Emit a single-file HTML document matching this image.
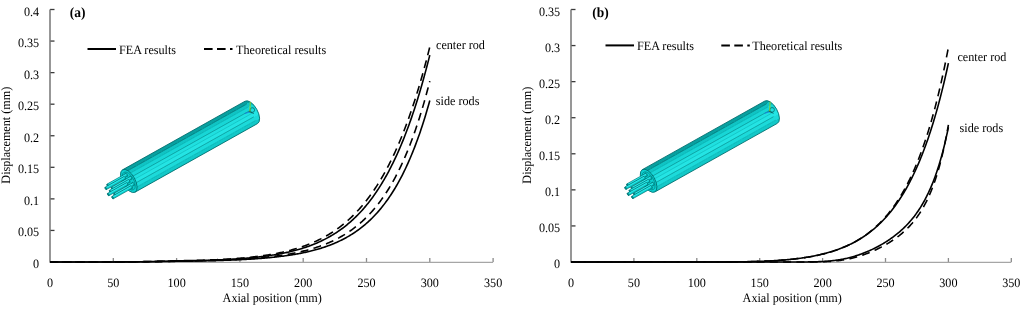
<!DOCTYPE html>
<html><head><meta charset="utf-8"><style>
html,body{margin:0;padding:0;background:#fff;width:1024px;height:309px;overflow:hidden;}
text{text-rendering:geometricPrecision;}
svg{display:block;will-change:transform;}
text{font-family:"Liberation Serif", serif;fill:#000;}
.yl{font-size:12.8px;text-anchor:end;}
.xl{font-size:12.8px;text-anchor:middle;}
.yt,.xt{font-size:12.8px;}
.yt{text-anchor:middle;}
.xt{text-anchor:start;}
.pl{font-size:14.2px;font-weight:bold;}
.lt{font-size:12.8px;}
.an{font-size:12.8px;}
.tk{stroke:#3a3a3a;stroke-width:1.3;}
.tx{stroke:#8a8a8a;stroke-width:1.3;}
.ya{stroke:#747474;stroke-width:1.5;}
.xa{stroke:#a6a6a6;stroke-width:1.3;}
.cs{fill:none;stroke:#000;stroke-width:1.6;stroke-linejoin:round;}
.cd{fill:none;stroke:#000;stroke-width:1.6;stroke-dasharray:8 5.3;}
.lg{stroke:#000;stroke-width:2;}
</style></head>
<body><svg width="1024" height="309" viewBox="0 0 1024 309">
<rect width="1024" height="309" fill="#fff"/>
<defs><linearGradient id="bga" x1="0" y1="-12.8" x2="0" y2="12.8" gradientUnits="userSpaceOnUse"><stop offset="0.0000" stop-color="#08a0a0"/><stop offset="0.1169" stop-color="#08a0a0"/><stop offset="0.1169" stop-color="#10c4c4"/><stop offset="0.2540" stop-color="#10c4c4"/><stop offset="0.2540" stop-color="#18d6d6"/><stop offset="0.4113" stop-color="#18d6d6"/><stop offset="0.4113" stop-color="#20e0e0"/><stop offset="0.5484" stop-color="#20e0e0"/><stop offset="0.5484" stop-color="#24e4e4"/><stop offset="0.7056" stop-color="#24e4e4"/><stop offset="0.7056" stop-color="#1cdada"/><stop offset="0.8669" stop-color="#1cdada"/><stop offset="0.8669" stop-color="#12c8c8"/><stop offset="1.0000" stop-color="#12c8c8"/></linearGradient></defs>
<g transform="translate(128.8,181.0) rotate(-29.25)">
<path d="M0,-12.8 L140.4,-12.8 A6.3,12.8 0 0 1 140.4,12.8 L0,12.8 Z" fill="url(#bga)" stroke="#006e6e" stroke-width="0.8"/>
<line x1="0" y1="-9.5" x2="140.4" y2="-9.5" stroke="#006c6c" stroke-width="0.6"/>
<line x1="0" y1="-6.1" x2="140.4" y2="-6.1" stroke="#049a9a" stroke-width="0.4"/>
<line x1="0" y1="-2.2" x2="140.4" y2="-2.2" stroke="#007878" stroke-width="0.5"/>
<line x1="0" y1="1.2" x2="140.4" y2="1.2" stroke="#06a8a8" stroke-width="0.4"/>
<line x1="0" y1="5.1" x2="140.4" y2="5.1" stroke="#007878" stroke-width="0.5"/>
<line x1="0" y1="9.1" x2="140.4" y2="9.1" stroke="#049c9c" stroke-width="0.4"/>
<ellipse cx="0" cy="0" rx="6.3" ry="12.8" fill="#0cd0d0" stroke="#006e6e" stroke-width="0.8"/>
<ellipse cx="0" cy="0" rx="4.91" ry="9.98" fill="none" stroke="#007a7a" stroke-width="0.6"/>
<ellipse cx="0.00" cy="0.00" rx="1.1" ry="2.2" fill="none" stroke="#007e7e" stroke-width="0.5"/>
<ellipse cx="-0.84" cy="6.57" rx="1.1" ry="2.2" fill="none" stroke="#007e7e" stroke-width="0.5"/>
<ellipse cx="2.31" cy="4.81" rx="1.1" ry="2.2" fill="none" stroke="#007e7e" stroke-width="0.5"/>
<ellipse cx="3.15" cy="-1.76" rx="1.1" ry="2.2" fill="none" stroke="#007e7e" stroke-width="0.5"/>
<ellipse cx="0.84" cy="-6.57" rx="1.1" ry="2.2" fill="none" stroke="#007e7e" stroke-width="0.5"/>
<ellipse cx="-2.31" cy="-4.81" rx="1.1" ry="2.2" fill="none" stroke="#007e7e" stroke-width="0.5"/>
<ellipse cx="-3.15" cy="1.76" rx="1.1" ry="2.2" fill="none" stroke="#007e7e" stroke-width="0.5"/>
<path d="M3.65,-3.11 L-18.15,-3.11 A0.68,1.35 0 0 0 -18.15,-0.41 L3.65,-0.41 Z" fill="#08d2d2" stroke="#006e6e" stroke-width="0.6"/>
<line x1="3.65" y1="-2.21" x2="-18.15" y2="-2.21" stroke="#40ecec" stroke-width="0.7"/>
<ellipse cx="-18.15" cy="-1.76" rx="0.68" ry="1.35" fill="#009494" stroke="#006868" stroke-width="0.5"/>
<path d="M2.81,3.46 L-18.99,3.46 A0.68,1.35 0 0 0 -18.99,6.16 L2.81,6.16 Z" fill="#08d2d2" stroke="#006e6e" stroke-width="0.6"/>
<line x1="2.81" y1="4.36" x2="-18.99" y2="4.36" stroke="#40ecec" stroke-width="0.7"/>
<ellipse cx="-18.99" cy="4.81" rx="0.68" ry="1.35" fill="#009494" stroke="#006868" stroke-width="0.5"/>
<path d="M1.34,-7.92 L-20.46,-7.92 A0.68,1.35 0 0 0 -20.46,-5.22 L1.34,-5.22 Z" fill="#08d2d2" stroke="#006e6e" stroke-width="0.6"/>
<line x1="1.34" y1="-7.02" x2="-20.46" y2="-7.02" stroke="#40ecec" stroke-width="0.7"/>
<ellipse cx="-20.46" cy="-6.57" rx="0.68" ry="1.35" fill="#009494" stroke="#006868" stroke-width="0.5"/>
<path d="M0.50,-1.35 L-21.30,-1.35 A0.68,1.35 0 0 0 -21.30,1.35 L0.50,1.35 Z" fill="#08d2d2" stroke="#006e6e" stroke-width="0.6"/>
<line x1="0.50" y1="-0.45" x2="-21.30" y2="-0.45" stroke="#40ecec" stroke-width="0.7"/>
<ellipse cx="-21.30" cy="0.00" rx="0.68" ry="1.35" fill="#009494" stroke="#006868" stroke-width="0.5"/>
<path d="M-0.34,5.22 L-22.14,5.22 A0.68,1.35 0 0 0 -22.14,7.92 L-0.34,7.92 Z" fill="#08d2d2" stroke="#006e6e" stroke-width="0.6"/>
<line x1="-0.34" y1="6.12" x2="-22.14" y2="6.12" stroke="#40ecec" stroke-width="0.7"/>
<ellipse cx="-22.14" cy="6.57" rx="0.68" ry="1.35" fill="#009494" stroke="#006868" stroke-width="0.5"/>
<path d="M-1.81,-6.16 L-23.61,-6.16 A0.68,1.35 0 0 0 -23.61,-3.46 L-1.81,-3.46 Z" fill="#08d2d2" stroke="#006e6e" stroke-width="0.6"/>
<line x1="-1.81" y1="-5.26" x2="-23.61" y2="-5.26" stroke="#40ecec" stroke-width="0.7"/>
<ellipse cx="-23.61" cy="-4.81" rx="0.68" ry="1.35" fill="#009494" stroke="#006868" stroke-width="0.5"/>
<path d="M-2.65,0.41 L-24.45,0.41 A0.68,1.35 0 0 0 -24.45,3.11 L-2.65,3.11 Z" fill="#08d2d2" stroke="#006e6e" stroke-width="0.6"/>
<line x1="-2.65" y1="1.31" x2="-24.45" y2="1.31" stroke="#40ecec" stroke-width="0.7"/>
<ellipse cx="-24.45" cy="1.76" rx="0.68" ry="1.35" fill="#009494" stroke="#006868" stroke-width="0.5"/>
</g>
<circle cx="252.30" cy="110.00" r="2.3" fill="none" stroke="#045f5f" stroke-width="0.7"/>
<line x1="249.80" y1="112.00" x2="250.30" y2="102.00" stroke="#a8d000" stroke-width="0.8"/>
<line x1="249.80" y1="112.00" x2="244.80" y2="113.50" stroke="#1a6fe0" stroke-width="0.8"/>
<line x1="248.80" y1="111.50" x2="253.80" y2="113.50" stroke="#034040" stroke-width="0.7"/>
<defs><linearGradient id="bgb" x1="0" y1="-12.8" x2="0" y2="12.8" gradientUnits="userSpaceOnUse"><stop offset="0.0000" stop-color="#08a0a0"/><stop offset="0.1169" stop-color="#08a0a0"/><stop offset="0.1169" stop-color="#10c4c4"/><stop offset="0.2540" stop-color="#10c4c4"/><stop offset="0.2540" stop-color="#18d6d6"/><stop offset="0.4113" stop-color="#18d6d6"/><stop offset="0.4113" stop-color="#20e0e0"/><stop offset="0.5484" stop-color="#20e0e0"/><stop offset="0.5484" stop-color="#24e4e4"/><stop offset="0.7056" stop-color="#24e4e4"/><stop offset="0.7056" stop-color="#1cdada"/><stop offset="0.8669" stop-color="#1cdada"/><stop offset="0.8669" stop-color="#12c8c8"/><stop offset="1.0000" stop-color="#12c8c8"/></linearGradient></defs>
<g transform="translate(648.6,180.8) rotate(-29.25)">
<path d="M0,-12.8 L140.4,-12.8 A6.3,12.8 0 0 1 140.4,12.8 L0,12.8 Z" fill="url(#bgb)" stroke="#006e6e" stroke-width="0.8"/>
<line x1="0" y1="-9.5" x2="140.4" y2="-9.5" stroke="#006c6c" stroke-width="0.6"/>
<line x1="0" y1="-6.1" x2="140.4" y2="-6.1" stroke="#049a9a" stroke-width="0.4"/>
<line x1="0" y1="-2.2" x2="140.4" y2="-2.2" stroke="#007878" stroke-width="0.5"/>
<line x1="0" y1="1.2" x2="140.4" y2="1.2" stroke="#06a8a8" stroke-width="0.4"/>
<line x1="0" y1="5.1" x2="140.4" y2="5.1" stroke="#007878" stroke-width="0.5"/>
<line x1="0" y1="9.1" x2="140.4" y2="9.1" stroke="#049c9c" stroke-width="0.4"/>
<ellipse cx="0" cy="0" rx="6.3" ry="12.8" fill="#0cd0d0" stroke="#006e6e" stroke-width="0.8"/>
<ellipse cx="0" cy="0" rx="4.91" ry="9.98" fill="none" stroke="#007a7a" stroke-width="0.6"/>
<ellipse cx="0.00" cy="0.00" rx="1.1" ry="2.2" fill="none" stroke="#007e7e" stroke-width="0.5"/>
<ellipse cx="-0.84" cy="6.57" rx="1.1" ry="2.2" fill="none" stroke="#007e7e" stroke-width="0.5"/>
<ellipse cx="2.31" cy="4.81" rx="1.1" ry="2.2" fill="none" stroke="#007e7e" stroke-width="0.5"/>
<ellipse cx="3.15" cy="-1.76" rx="1.1" ry="2.2" fill="none" stroke="#007e7e" stroke-width="0.5"/>
<ellipse cx="0.84" cy="-6.57" rx="1.1" ry="2.2" fill="none" stroke="#007e7e" stroke-width="0.5"/>
<ellipse cx="-2.31" cy="-4.81" rx="1.1" ry="2.2" fill="none" stroke="#007e7e" stroke-width="0.5"/>
<ellipse cx="-3.15" cy="1.76" rx="1.1" ry="2.2" fill="none" stroke="#007e7e" stroke-width="0.5"/>
<path d="M3.65,-3.11 L-18.15,-3.11 A0.68,1.35 0 0 0 -18.15,-0.41 L3.65,-0.41 Z" fill="#08d2d2" stroke="#006e6e" stroke-width="0.6"/>
<line x1="3.65" y1="-2.21" x2="-18.15" y2="-2.21" stroke="#40ecec" stroke-width="0.7"/>
<ellipse cx="-18.15" cy="-1.76" rx="0.68" ry="1.35" fill="#009494" stroke="#006868" stroke-width="0.5"/>
<path d="M2.81,3.46 L-18.99,3.46 A0.68,1.35 0 0 0 -18.99,6.16 L2.81,6.16 Z" fill="#08d2d2" stroke="#006e6e" stroke-width="0.6"/>
<line x1="2.81" y1="4.36" x2="-18.99" y2="4.36" stroke="#40ecec" stroke-width="0.7"/>
<ellipse cx="-18.99" cy="4.81" rx="0.68" ry="1.35" fill="#009494" stroke="#006868" stroke-width="0.5"/>
<path d="M1.34,-7.92 L-20.46,-7.92 A0.68,1.35 0 0 0 -20.46,-5.22 L1.34,-5.22 Z" fill="#08d2d2" stroke="#006e6e" stroke-width="0.6"/>
<line x1="1.34" y1="-7.02" x2="-20.46" y2="-7.02" stroke="#40ecec" stroke-width="0.7"/>
<ellipse cx="-20.46" cy="-6.57" rx="0.68" ry="1.35" fill="#009494" stroke="#006868" stroke-width="0.5"/>
<path d="M0.50,-1.35 L-21.30,-1.35 A0.68,1.35 0 0 0 -21.30,1.35 L0.50,1.35 Z" fill="#08d2d2" stroke="#006e6e" stroke-width="0.6"/>
<line x1="0.50" y1="-0.45" x2="-21.30" y2="-0.45" stroke="#40ecec" stroke-width="0.7"/>
<ellipse cx="-21.30" cy="0.00" rx="0.68" ry="1.35" fill="#009494" stroke="#006868" stroke-width="0.5"/>
<path d="M-0.34,5.22 L-22.14,5.22 A0.68,1.35 0 0 0 -22.14,7.92 L-0.34,7.92 Z" fill="#08d2d2" stroke="#006e6e" stroke-width="0.6"/>
<line x1="-0.34" y1="6.12" x2="-22.14" y2="6.12" stroke="#40ecec" stroke-width="0.7"/>
<ellipse cx="-22.14" cy="6.57" rx="0.68" ry="1.35" fill="#009494" stroke="#006868" stroke-width="0.5"/>
<path d="M-1.81,-6.16 L-23.61,-6.16 A0.68,1.35 0 0 0 -23.61,-3.46 L-1.81,-3.46 Z" fill="#08d2d2" stroke="#006e6e" stroke-width="0.6"/>
<line x1="-1.81" y1="-5.26" x2="-23.61" y2="-5.26" stroke="#40ecec" stroke-width="0.7"/>
<ellipse cx="-23.61" cy="-4.81" rx="0.68" ry="1.35" fill="#009494" stroke="#006868" stroke-width="0.5"/>
<path d="M-2.65,0.41 L-24.45,0.41 A0.68,1.35 0 0 0 -24.45,3.11 L-2.65,3.11 Z" fill="#08d2d2" stroke="#006e6e" stroke-width="0.6"/>
<line x1="-2.65" y1="1.31" x2="-24.45" y2="1.31" stroke="#40ecec" stroke-width="0.7"/>
<ellipse cx="-24.45" cy="1.76" rx="0.68" ry="1.35" fill="#009494" stroke="#006868" stroke-width="0.5"/>
</g>
<circle cx="772.10" cy="109.80" r="2.3" fill="none" stroke="#045f5f" stroke-width="0.7"/>
<line x1="769.60" y1="111.80" x2="770.10" y2="101.80" stroke="#a8d000" stroke-width="0.8"/>
<line x1="769.60" y1="111.80" x2="764.60" y2="113.30" stroke="#1a6fe0" stroke-width="0.8"/>
<line x1="768.60" y1="111.30" x2="773.60" y2="113.30" stroke="#034040" stroke-width="0.7"/>
<line x1="50.0" y1="262.00" x2="54.5" y2="262.00" class="tk"/>
<text transform="translate(39.20,268.00) scale(0.95,1)" class="yl">0</text>
<line x1="50.0" y1="230.44" x2="54.5" y2="230.44" class="tk"/>
<text transform="translate(39.20,236.44) scale(0.95,1)" class="yl">0.05</text>
<line x1="50.0" y1="198.88" x2="54.5" y2="198.88" class="tk"/>
<text transform="translate(39.20,204.88) scale(0.95,1)" class="yl">0.1</text>
<line x1="50.0" y1="167.31" x2="54.5" y2="167.31" class="tk"/>
<text transform="translate(39.20,173.31) scale(0.95,1)" class="yl">0.15</text>
<line x1="50.0" y1="135.75" x2="54.5" y2="135.75" class="tk"/>
<text transform="translate(39.20,141.75) scale(0.95,1)" class="yl">0.2</text>
<line x1="50.0" y1="104.19" x2="54.5" y2="104.19" class="tk"/>
<text transform="translate(39.20,110.19) scale(0.95,1)" class="yl">0.25</text>
<line x1="50.0" y1="72.62" x2="54.5" y2="72.62" class="tk"/>
<text transform="translate(39.20,78.62) scale(0.95,1)" class="yl">0.3</text>
<line x1="50.0" y1="41.06" x2="54.5" y2="41.06" class="tk"/>
<text transform="translate(39.20,47.06) scale(0.95,1)" class="yl">0.35</text>
<line x1="50.0" y1="9.50" x2="54.5" y2="9.50" class="tk"/>
<text transform="translate(39.20,15.50) scale(0.95,1)" class="yl">0.4</text>
<text transform="translate(50.00,286.60) scale(0.95,1)" class="xl">0</text>
<line x1="113.30" y1="262.0" x2="113.30" y2="258.0" class="tx"/>
<text transform="translate(113.30,286.60) scale(0.95,1)" class="xl">50</text>
<line x1="176.60" y1="262.0" x2="176.60" y2="258.0" class="tx"/>
<text transform="translate(176.60,286.60) scale(0.95,1)" class="xl">100</text>
<line x1="239.90" y1="262.0" x2="239.90" y2="258.0" class="tx"/>
<text transform="translate(239.90,286.60) scale(0.95,1)" class="xl">150</text>
<line x1="303.20" y1="262.0" x2="303.20" y2="258.0" class="tx"/>
<text transform="translate(303.20,286.60) scale(0.95,1)" class="xl">200</text>
<line x1="366.50" y1="262.0" x2="366.50" y2="258.0" class="tx"/>
<text transform="translate(366.50,286.60) scale(0.95,1)" class="xl">250</text>
<line x1="429.80" y1="262.0" x2="429.80" y2="258.0" class="tx"/>
<text transform="translate(429.80,286.60) scale(0.95,1)" class="xl">300</text>
<line x1="493.10" y1="262.0" x2="493.10" y2="258.0" class="tx"/>
<text transform="translate(493.10,286.60) scale(0.95,1)" class="xl">350</text>
<line x1="50.0" y1="9.5" x2="50.0" y2="262.5" class="ya"/>
<line x1="49.5" y1="262.3" x2="493.10" y2="262.3" class="xa"/>
<path d="M50.00,262.00 L50.95,262.00 L51.90,262.00 L52.86,262.00 L53.81,262.00 L54.76,262.00 L55.71,262.00 L56.66,262.00 L57.62,262.00 L58.57,262.00 L59.52,262.00 L60.47,262.00 L61.42,262.00 L62.37,262.00 L63.33,262.00 L64.28,262.00 L65.23,262.00 L66.18,262.00 L67.13,262.00 L68.09,262.00 L69.04,262.00 L69.99,262.00 L70.94,262.00 L71.89,262.00 L72.85,262.00 L73.80,262.00 L74.75,262.00 L75.70,262.00 L76.65,262.00 L77.60,262.00 L78.56,262.00 L79.51,262.00 L80.46,262.00 L81.41,262.00 L82.36,262.00 L83.32,261.99 L84.27,261.99 L85.22,261.99 L86.17,261.99 L87.12,261.99 L88.08,261.99 L89.03,261.99 L89.98,261.99 L90.93,261.99 L91.88,261.99 L92.83,261.99 L93.79,261.98 L94.74,261.98 L95.69,261.98 L96.64,261.98 L97.59,261.98 L98.55,261.98 L99.50,261.97 L100.45,261.97 L101.40,261.97 L102.35,261.97 L103.31,261.96 L104.26,261.96 L105.21,261.96 L106.16,261.96 L107.11,261.95 L108.06,261.95 L109.02,261.95 L109.97,261.94 L110.92,261.94 L111.87,261.94 L112.82,261.93 L113.78,261.93 L114.73,261.92 L115.68,261.92 L116.63,261.91 L117.58,261.91 L118.54,261.90 L119.49,261.90 L120.44,261.89 L121.39,261.89 L122.34,261.88 L123.29,261.87 L124.25,261.87 L125.20,261.86 L126.15,261.85 L127.10,261.85 L128.05,261.84 L129.01,261.83 L129.96,261.82 L130.91,261.81 L131.86,261.80 L132.81,261.79 L133.77,261.79 L134.72,261.78 L135.67,261.77 L136.62,261.75 L137.57,261.74 L138.52,261.73 L139.48,261.72 L140.43,261.71 L141.38,261.70 L142.33,261.68 L143.28,261.67 L144.24,261.66 L145.19,261.64 L146.14,261.63 L147.09,261.61 L148.04,261.60 L149.00,261.58 L149.95,261.57 L150.90,261.55 L151.85,261.53 L152.80,261.51 L153.75,261.49 L154.71,261.48 L155.66,261.46 L156.61,261.44 L157.56,261.42 L158.51,261.40 L159.47,261.37 L160.42,261.35 L161.37,261.33 L162.32,261.31 L163.27,261.28 L164.23,261.26 L165.18,261.23 L166.13,261.21 L167.08,261.18 L168.03,261.15 L168.98,261.13 L169.94,261.10 L170.89,261.07 L171.84,261.04 L172.79,261.01 L173.74,260.98 L174.70,260.95 L175.65,260.91 L176.60,260.88 L177.55,260.87 L178.50,260.86 L179.46,260.85 L180.41,260.84 L181.36,260.83 L182.31,260.82 L183.26,260.80 L184.22,260.79 L185.17,260.78 L186.12,260.76 L187.07,260.75 L188.02,260.73 L188.97,260.72 L189.93,260.70 L190.88,260.68 L191.83,260.67 L192.78,260.65 L193.73,260.63 L194.69,260.61 L195.64,260.59 L196.59,260.57 L197.54,260.55 L198.49,260.52 L199.45,260.50 L200.40,260.48 L201.35,260.45 L202.30,260.43 L203.25,260.40 L204.20,260.38 L205.16,260.35 L206.11,260.32 L207.06,260.29 L208.01,260.26 L208.96,260.23 L209.92,260.20 L210.87,260.17 L211.82,260.14 L212.77,260.10 L213.72,260.07 L214.68,260.03 L215.63,260.00 L216.58,259.96 L217.53,259.92 L218.48,259.88 L219.43,259.84 L220.39,259.80 L221.34,259.76 L222.29,259.72 L223.24,259.67 L224.19,259.63 L225.15,259.58 L226.10,259.53 L227.05,259.48 L228.00,259.43 L228.95,259.38 L229.91,259.33 L230.86,259.27 L231.81,259.22 L232.76,259.16 L233.71,259.10 L234.66,259.04 L235.62,258.98 L236.57,258.92 L237.52,258.86 L238.47,258.79 L239.42,258.73 L240.38,258.66 L241.33,258.59 L242.28,258.51 L243.23,258.44 L244.18,258.37 L245.14,258.29 L246.09,258.21 L247.04,258.13 L247.99,258.05 L248.94,257.96 L249.89,257.88 L250.85,257.79 L251.80,257.70 L252.75,257.60 L253.70,257.51 L254.65,257.41 L255.61,257.31 L256.56,257.21 L257.51,257.11 L258.46,257.00 L259.41,256.89 L260.37,256.78 L261.32,256.66 L262.27,256.55 L263.22,256.43 L264.17,256.31 L265.12,256.18 L266.08,256.05 L267.03,255.92 L267.98,255.79 L268.93,255.65 L269.88,255.51 L270.84,255.37 L271.79,255.22 L272.74,255.08 L273.69,254.92 L274.64,254.77 L275.60,254.61 L276.55,254.44 L277.50,254.28 L278.45,254.11 L279.40,253.93 L280.35,253.75 L281.31,253.57 L282.26,253.38 L283.21,253.19 L284.16,253.00 L285.11,252.80 L286.07,252.60 L287.02,252.39 L287.97,252.18 L288.92,251.96 L289.87,251.74 L290.83,251.51 L291.78,251.28 L292.73,251.04 L293.68,250.80 L294.63,250.55 L295.58,250.30 L296.54,250.04 L297.49,249.78 L298.44,249.51 L299.39,249.23 L300.34,248.95 L301.30,248.66 L302.25,248.37 L303.20,248.07 L304.15,247.76 L305.10,247.45 L306.06,247.13 L307.01,246.81 L307.96,246.47 L308.91,246.13 L309.86,245.78 L310.82,245.43 L311.77,245.07 L312.72,244.70 L313.67,244.32 L314.62,243.93 L315.57,243.54 L316.53,243.14 L317.48,242.73 L318.43,242.31 L319.38,241.88 L320.33,241.44 L321.29,240.99 L322.24,240.54 L323.19,240.07 L324.14,239.60 L325.09,239.11 L326.05,238.62 L327.00,238.11 L327.95,237.60 L328.90,237.07 L329.85,236.54 L330.80,235.99 L331.76,235.43 L332.71,234.86 L333.66,234.28 L334.61,233.68 L335.56,233.08 L336.52,232.46 L337.47,231.83 L338.42,231.18 L339.37,230.53 L340.32,229.86 L341.28,229.17 L342.23,228.48 L343.18,227.77 L344.13,227.04 L345.08,226.30 L346.03,225.55 L346.99,224.78 L347.94,223.99 L348.89,223.19 L349.84,222.37 L350.79,221.54 L351.75,220.69 L352.70,219.82 L353.65,218.94 L354.60,218.04 L355.55,217.12 L356.51,216.19 L357.46,215.23 L358.41,214.26 L359.36,213.27 L360.31,212.25 L361.26,211.22 L362.22,210.17 L363.17,209.10 L364.12,208.01 L365.07,206.89 L366.02,205.76 L366.98,204.60 L367.93,203.42 L368.88,202.22 L369.83,201.00 L370.78,199.75 L371.74,198.48 L372.69,197.18 L373.64,195.86 L374.59,194.51 L375.54,193.14 L376.49,191.74 L377.45,190.32 L378.40,188.87 L379.35,187.39 L380.30,185.89 L381.25,184.35 L382.21,182.79 L383.16,181.20 L384.11,179.58 L385.06,177.92 L386.01,176.24 L386.97,174.53 L387.92,172.78 L388.87,171.01 L389.82,169.19 L390.77,167.35 L391.72,165.47 L392.68,163.56 L393.63,161.61 L394.58,159.63 L395.53,157.61 L396.48,155.55 L397.44,153.46 L398.39,151.33 L399.34,149.16 L400.29,146.95 L401.24,144.70 L402.20,142.41 L403.15,140.08 L404.10,137.71 L405.05,135.29 L406.00,132.83 L406.95,130.33 L407.91,127.78 L408.86,125.19 L409.81,122.55 L410.76,119.86 L411.71,117.13 L412.67,114.35 L413.62,111.52 L414.57,108.63 L415.52,105.70 L416.47,102.72 L417.43,99.68 L418.38,96.59 L419.33,93.45 L420.28,90.25 L421.23,87.00 L422.18,83.69 L423.14,80.32 L424.09,76.90 L425.04,73.41 L425.99,69.87 L426.94,66.26 L427.90,62.59 L428.85,58.86 L429.80,55.07" class="cs"/>
<path d="M50.00,262.00 L50.95,262.00 L51.90,262.00 L52.86,262.00 L53.81,262.00 L54.76,262.00 L55.71,262.00 L56.66,262.00 L57.62,262.00 L58.57,262.00 L59.52,262.00 L60.47,262.00 L61.42,262.00 L62.37,262.00 L63.33,262.00 L64.28,262.00 L65.23,262.00 L66.18,262.00 L67.13,262.00 L68.09,262.00 L69.04,262.00 L69.99,262.00 L70.94,262.00 L71.89,262.00 L72.85,262.00 L73.80,262.00 L74.75,262.00 L75.70,262.00 L76.65,262.00 L77.60,262.00 L78.56,262.00 L79.51,262.00 L80.46,262.00 L81.41,262.00 L82.36,261.99 L83.32,261.99 L84.27,261.99 L85.22,261.99 L86.17,261.99 L87.12,261.99 L88.08,261.99 L89.03,261.99 L89.98,261.99 L90.93,261.99 L91.88,261.99 L92.83,261.98 L93.79,261.98 L94.74,261.98 L95.69,261.98 L96.64,261.98 L97.59,261.98 L98.55,261.97 L99.50,261.97 L100.45,261.97 L101.40,261.97 L102.35,261.96 L103.31,261.96 L104.26,261.96 L105.21,261.96 L106.16,261.95 L107.11,261.95 L108.06,261.95 L109.02,261.94 L109.97,261.94 L110.92,261.93 L111.87,261.93 L112.82,261.93 L113.78,261.92 L114.73,261.92 L115.68,261.91 L116.63,261.91 L117.58,261.90 L118.54,261.89 L119.49,261.89 L120.44,261.88 L121.39,261.88 L122.34,261.87 L123.29,261.86 L124.25,261.86 L125.20,261.85 L126.15,261.84 L127.10,261.83 L128.05,261.82 L129.01,261.81 L129.96,261.81 L130.91,261.80 L131.86,261.79 L132.81,261.78 L133.77,261.77 L134.72,261.75 L135.67,261.74 L136.62,261.73 L137.57,261.72 L138.52,261.71 L139.48,261.69 L140.43,261.68 L141.38,261.67 L142.33,261.65 L143.28,261.64 L144.24,261.62 L145.19,261.61 L146.14,261.59 L147.09,261.58 L148.04,261.56 L149.00,261.54 L149.95,261.52 L150.90,261.51 L151.85,261.49 L152.80,261.47 L153.75,261.45 L154.71,261.43 L155.66,261.41 L156.61,261.38 L157.56,261.36 L158.51,261.34 L159.47,261.32 L160.42,261.29 L161.37,261.27 L162.32,261.24 L163.27,261.22 L164.23,261.19 L165.18,261.16 L166.13,261.13 L167.08,261.10 L168.03,261.07 L168.98,261.04 L169.94,261.01 L170.89,260.98 L171.84,260.95 L172.79,260.92 L173.74,260.88 L174.70,260.85 L175.65,260.81 L176.60,260.78 L177.55,260.76 L178.50,260.75 L179.46,260.74 L180.41,260.72 L181.36,260.71 L182.31,260.69 L183.26,260.68 L184.22,260.66 L185.17,260.64 L186.12,260.63 L187.07,260.61 L188.02,260.59 L188.97,260.57 L189.93,260.55 L190.88,260.53 L191.83,260.51 L192.78,260.49 L193.73,260.46 L194.69,260.44 L195.64,260.42 L196.59,260.39 L197.54,260.37 L198.49,260.34 L199.45,260.31 L200.40,260.28 L201.35,260.26 L202.30,260.23 L203.25,260.20 L204.20,260.17 L205.16,260.13 L206.11,260.10 L207.06,260.07 L208.01,260.03 L208.96,260.00 L209.92,259.96 L210.87,259.92 L211.82,259.89 L212.77,259.85 L213.72,259.81 L214.68,259.77 L215.63,259.72 L216.58,259.68 L217.53,259.64 L218.48,259.59 L219.43,259.54 L220.39,259.50 L221.34,259.45 L222.29,259.40 L223.24,259.35 L224.19,259.29 L225.15,259.24 L226.10,259.18 L227.05,259.13 L228.00,259.07 L228.95,259.01 L229.91,258.95 L230.86,258.89 L231.81,258.82 L232.76,258.76 L233.71,258.69 L234.66,258.62 L235.62,258.55 L236.57,258.48 L237.52,258.41 L238.47,258.33 L239.42,258.26 L240.38,258.18 L241.33,258.10 L242.28,258.02 L243.23,257.93 L244.18,257.85 L245.14,257.76 L246.09,257.67 L247.04,257.58 L247.99,257.48 L248.94,257.39 L249.89,257.29 L250.85,257.19 L251.80,257.08 L252.75,256.98 L253.70,256.87 L254.65,256.76 L255.61,256.65 L256.56,256.53 L257.51,256.41 L258.46,256.29 L259.41,256.17 L260.37,256.04 L261.32,255.91 L262.27,255.78 L263.22,255.65 L264.17,255.51 L265.12,255.37 L266.08,255.23 L267.03,255.08 L267.98,254.93 L268.93,254.78 L269.88,254.62 L270.84,254.46 L271.79,254.29 L272.74,254.13 L273.69,253.95 L274.64,253.78 L275.60,253.60 L276.55,253.42 L277.50,253.23 L278.45,253.04 L279.40,252.85 L280.35,252.65 L281.31,252.44 L282.26,252.23 L283.21,252.02 L284.16,251.81 L285.11,251.58 L286.07,251.36 L287.02,251.13 L287.97,250.89 L288.92,250.65 L289.87,250.40 L290.83,250.15 L291.78,249.89 L292.73,249.63 L293.68,249.36 L294.63,249.09 L295.58,248.81 L296.54,248.52 L297.49,248.23 L298.44,247.94 L299.39,247.63 L300.34,247.32 L301.30,247.00 L302.25,246.68 L303.20,246.35 L304.15,246.01 L305.10,245.67 L306.06,245.32 L307.01,244.96 L307.96,244.60 L308.91,244.22 L309.86,243.84 L310.82,243.45 L311.77,243.06 L312.72,242.65 L313.67,242.24 L314.62,241.82 L315.57,241.39 L316.53,240.95 L317.48,240.50 L318.43,240.04 L319.38,239.58 L320.33,239.10 L321.29,238.62 L322.24,238.12 L323.19,237.62 L324.14,237.10 L325.09,236.58 L326.05,236.04 L327.00,235.49 L327.95,234.94 L328.90,234.37 L329.85,233.79 L330.80,233.20 L331.76,232.59 L332.71,231.98 L333.66,231.35 L334.61,230.71 L335.56,230.06 L336.52,229.39 L337.47,228.72 L338.42,228.03 L339.37,227.32 L340.32,226.60 L341.28,225.87 L342.23,225.12 L343.18,224.36 L344.13,223.59 L345.08,222.80 L346.03,221.99 L346.99,221.17 L347.94,220.33 L348.89,219.48 L349.84,218.61 L350.79,217.72 L351.75,216.82 L352.70,215.90 L353.65,214.96 L354.60,214.00 L355.55,213.03 L356.51,212.04 L357.46,211.03 L358.41,210.00 L359.36,208.95 L360.31,207.88 L361.26,206.79 L362.22,205.68 L363.17,204.55 L364.12,203.40 L365.07,202.22 L366.02,201.03 L366.98,199.81 L367.93,198.57 L368.88,197.31 L369.83,196.02 L370.78,194.72 L371.74,193.38 L372.69,192.02 L373.64,190.64 L374.59,189.23 L375.54,187.80 L376.49,186.34 L377.45,184.85 L378.40,183.34 L379.35,181.80 L380.30,180.23 L381.25,178.64 L382.21,177.01 L383.16,175.36 L384.11,173.67 L385.06,171.96 L386.01,170.21 L386.97,168.44 L387.92,166.63 L388.87,164.79 L389.82,162.92 L390.77,161.01 L391.72,159.07 L392.68,157.10 L393.63,155.09 L394.58,153.04 L395.53,150.96 L396.48,148.85 L397.44,146.69 L398.39,144.50 L399.34,142.27 L400.29,140.01 L401.24,137.70 L402.20,135.35 L403.15,132.96 L404.10,130.54 L405.05,128.06 L406.00,125.55 L406.95,122.99 L407.91,120.39 L408.86,117.75 L409.81,115.06 L410.76,112.32 L411.71,109.54 L412.67,106.71 L413.62,103.83 L414.57,100.91 L415.52,97.93 L416.47,94.91 L417.43,91.83 L418.38,88.70 L419.33,85.52 L420.28,82.29 L421.23,79.00 L422.18,75.66 L423.14,72.26 L424.09,68.80 L425.04,65.29 L425.99,61.72 L426.94,58.09 L427.90,54.40 L428.85,50.65 L429.80,46.84" class="cd" stroke-dashoffset="12.89"/>
<path d="M50.00,262.00 L50.95,262.00 L51.90,262.00 L52.86,262.00 L53.81,262.00 L54.76,262.00 L55.71,262.00 L56.66,262.00 L57.62,262.00 L58.57,262.00 L59.52,262.00 L60.47,262.00 L61.42,262.00 L62.37,262.00 L63.33,262.00 L64.28,262.00 L65.23,262.00 L66.18,262.00 L67.13,262.00 L68.09,262.00 L69.04,262.00 L69.99,262.00 L70.94,262.00 L71.89,262.00 L72.85,262.00 L73.80,262.00 L74.75,262.00 L75.70,262.00 L76.65,262.00 L77.60,262.00 L78.56,262.00 L79.51,262.00 L80.46,262.00 L81.41,262.00 L82.36,262.00 L83.32,262.00 L84.27,262.00 L85.22,262.00 L86.17,262.00 L87.12,261.99 L88.08,261.99 L89.03,261.99 L89.98,261.99 L90.93,261.99 L91.88,261.99 L92.83,261.99 L93.79,261.99 L94.74,261.99 L95.69,261.99 L96.64,261.99 L97.59,261.99 L98.55,261.98 L99.50,261.98 L100.45,261.98 L101.40,261.98 L102.35,261.98 L103.31,261.98 L104.26,261.98 L105.21,261.97 L106.16,261.97 L107.11,261.97 L108.06,261.97 L109.02,261.97 L109.97,261.96 L110.92,261.96 L111.87,261.96 L112.82,261.96 L113.78,261.96 L114.73,261.95 L115.68,261.95 L116.63,261.95 L117.58,261.94 L118.54,261.94 L119.49,261.94 L120.44,261.93 L121.39,261.93 L122.34,261.93 L123.29,261.92 L124.25,261.92 L125.20,261.91 L126.15,261.91 L127.10,261.90 L128.05,261.90 L129.01,261.89 L129.96,261.89 L130.91,261.88 L131.86,261.88 L132.81,261.87 L133.77,261.87 L134.72,261.86 L135.67,261.85 L136.62,261.85 L137.57,261.84 L138.52,261.83 L139.48,261.83 L140.43,261.82 L141.38,261.81 L142.33,261.80 L143.28,261.79 L144.24,261.79 L145.19,261.78 L146.14,261.77 L147.09,261.76 L148.04,261.75 L149.00,261.74 L149.95,261.73 L150.90,261.72 L151.85,261.71 L152.80,261.70 L153.75,261.69 L154.71,261.67 L155.66,261.66 L156.61,261.65 L157.56,261.64 L158.51,261.62 L159.47,261.61 L160.42,261.60 L161.37,261.58 L162.32,261.57 L163.27,261.55 L164.23,261.54 L165.18,261.52 L166.13,261.51 L167.08,261.49 L168.03,261.47 L168.98,261.46 L169.94,261.44 L170.89,261.42 L171.84,261.40 L172.79,261.38 L173.74,261.36 L174.70,261.34 L175.65,261.32 L176.60,261.30 L177.55,261.29 L178.50,261.28 L179.46,261.27 L180.41,261.26 L181.36,261.25 L182.31,261.23 L183.26,261.22 L184.22,261.21 L185.17,261.20 L186.12,261.18 L187.07,261.17 L188.02,261.16 L188.97,261.14 L189.93,261.13 L190.88,261.11 L191.83,261.10 L192.78,261.08 L193.73,261.07 L194.69,261.05 L195.64,261.03 L196.59,261.02 L197.54,261.00 L198.49,260.98 L199.45,260.96 L200.40,260.95 L201.35,260.93 L202.30,260.91 L203.25,260.89 L204.20,260.87 L205.16,260.85 L206.11,260.83 L207.06,260.80 L208.01,260.78 L208.96,260.76 L209.92,260.74 L210.87,260.71 L211.82,260.69 L212.77,260.66 L213.72,260.64 L214.68,260.61 L215.63,260.59 L216.58,260.56 L217.53,260.53 L218.48,260.51 L219.43,260.48 L220.39,260.45 L221.34,260.42 L222.29,260.39 L223.24,260.36 L224.19,260.32 L225.15,260.29 L226.10,260.26 L227.05,260.22 L228.00,260.19 L228.95,260.15 L229.91,260.12 L230.86,260.08 L231.81,260.04 L232.76,260.00 L233.71,259.96 L234.66,259.92 L235.62,259.88 L236.57,259.84 L237.52,259.80 L238.47,259.75 L239.42,259.71 L240.38,259.66 L241.33,259.61 L242.28,259.57 L243.23,259.52 L244.18,259.47 L245.14,259.41 L246.09,259.36 L247.04,259.31 L247.99,259.25 L248.94,259.20 L249.89,259.14 L250.85,259.08 L251.80,259.02 L252.75,258.96 L253.70,258.90 L254.65,258.83 L255.61,258.77 L256.56,258.70 L257.51,258.63 L258.46,258.56 L259.41,258.49 L260.37,258.42 L261.32,258.34 L262.27,258.27 L263.22,258.19 L264.17,258.11 L265.12,258.03 L266.08,257.94 L267.03,257.86 L267.98,257.77 L268.93,257.68 L269.88,257.59 L270.84,257.50 L271.79,257.40 L272.74,257.31 L273.69,257.21 L274.64,257.11 L275.60,257.00 L276.55,256.90 L277.50,256.79 L278.45,256.68 L279.40,256.57 L280.35,256.45 L281.31,256.33 L282.26,256.21 L283.21,256.09 L284.16,255.96 L285.11,255.83 L286.07,255.70 L287.02,255.57 L287.97,255.43 L288.92,255.29 L289.87,255.14 L290.83,255.00 L291.78,254.85 L292.73,254.69 L293.68,254.54 L294.63,254.38 L295.58,254.21 L296.54,254.04 L297.49,253.87 L298.44,253.70 L299.39,253.52 L300.34,253.34 L301.30,253.15 L302.25,252.96 L303.20,252.76 L304.15,252.56 L305.10,252.36 L306.06,252.15 L307.01,251.94 L307.96,251.72 L308.91,251.50 L309.86,251.27 L310.82,251.04 L311.77,250.80 L312.72,250.56 L313.67,250.31 L314.62,250.06 L315.57,249.80 L316.53,249.53 L317.48,249.26 L318.43,248.99 L319.38,248.70 L320.33,248.42 L321.29,248.12 L322.24,247.82 L323.19,247.51 L324.14,247.20 L325.09,246.87 L326.05,246.54 L327.00,246.21 L327.95,245.86 L328.90,245.51 L329.85,245.15 L330.80,244.79 L331.76,244.41 L332.71,244.03 L333.66,243.64 L334.61,243.24 L335.56,242.83 L336.52,242.41 L337.47,241.98 L338.42,241.55 L339.37,241.10 L340.32,240.65 L341.28,240.18 L342.23,239.70 L343.18,239.22 L344.13,238.72 L345.08,238.21 L346.03,237.69 L346.99,237.16 L347.94,236.62 L348.89,236.07 L349.84,235.50 L350.79,234.92 L351.75,234.33 L352.70,233.73 L353.65,233.11 L354.60,232.48 L355.55,231.84 L356.51,231.18 L357.46,230.50 L358.41,229.82 L359.36,229.11 L360.31,228.40 L361.26,227.66 L362.22,226.91 L363.17,226.15 L364.12,225.36 L365.07,224.57 L366.02,223.75 L366.98,222.91 L367.93,222.06 L368.88,221.19 L369.83,220.30 L370.78,219.39 L371.74,218.46 L372.69,217.51 L373.64,216.54 L374.59,215.55 L375.54,214.53 L376.49,213.50 L377.45,212.44 L378.40,211.36 L379.35,210.26 L380.30,209.13 L381.25,207.98 L382.21,206.80 L383.16,205.60 L384.11,204.37 L385.06,203.11 L386.01,201.83 L386.97,200.52 L387.92,199.18 L388.87,197.81 L389.82,196.42 L390.77,194.99 L391.72,193.53 L392.68,192.04 L393.63,190.52 L394.58,188.97 L395.53,187.38 L396.48,185.76 L397.44,184.10 L398.39,182.40 L399.34,180.68 L400.29,178.91 L401.24,177.10 L402.20,175.26 L403.15,173.38 L404.10,171.45 L405.05,169.49 L406.00,167.48 L406.95,165.43 L407.91,163.33 L408.86,161.19 L409.81,159.01 L410.76,156.77 L411.71,154.49 L412.67,152.16 L413.62,149.79 L414.57,147.35 L415.52,144.87 L416.47,142.34 L417.43,139.75 L418.38,137.10 L419.33,134.40 L420.28,131.64 L421.23,128.82 L422.18,125.94 L423.14,123.00 L424.09,120.00 L425.04,116.93 L425.99,113.80 L426.94,110.60 L427.90,107.33 L428.85,103.99 L429.80,100.58" class="cs"/>
<path d="M50.00,262.00 L50.95,262.00 L51.90,262.00 L52.86,262.00 L53.81,262.00 L54.76,262.00 L55.71,262.00 L56.66,262.00 L57.62,262.00 L58.57,262.00 L59.52,262.00 L60.47,262.00 L61.42,262.00 L62.37,262.00 L63.33,262.00 L64.28,262.00 L65.23,262.00 L66.18,262.00 L67.13,262.00 L68.09,262.00 L69.04,262.00 L69.99,262.00 L70.94,262.00 L71.89,262.00 L72.85,262.00 L73.80,262.00 L74.75,262.00 L75.70,262.00 L76.65,262.00 L77.60,262.00 L78.56,262.00 L79.51,262.00 L80.46,262.00 L81.41,262.00 L82.36,262.00 L83.32,262.00 L84.27,262.00 L85.22,262.00 L86.17,261.99 L87.12,261.99 L88.08,261.99 L89.03,261.99 L89.98,261.99 L90.93,261.99 L91.88,261.99 L92.83,261.99 L93.79,261.99 L94.74,261.99 L95.69,261.99 L96.64,261.98 L97.59,261.98 L98.55,261.98 L99.50,261.98 L100.45,261.98 L101.40,261.98 L102.35,261.98 L103.31,261.97 L104.26,261.97 L105.21,261.97 L106.16,261.97 L107.11,261.97 L108.06,261.96 L109.02,261.96 L109.97,261.96 L110.92,261.96 L111.87,261.95 L112.82,261.95 L113.78,261.95 L114.73,261.94 L115.68,261.94 L116.63,261.94 L117.58,261.93 L118.54,261.93 L119.49,261.93 L120.44,261.92 L121.39,261.92 L122.34,261.91 L123.29,261.91 L124.25,261.90 L125.20,261.90 L126.15,261.89 L127.10,261.89 L128.05,261.88 L129.01,261.87 L129.96,261.87 L130.91,261.86 L131.86,261.86 L132.81,261.85 L133.77,261.84 L134.72,261.83 L135.67,261.83 L136.62,261.82 L137.57,261.81 L138.52,261.80 L139.48,261.79 L140.43,261.79 L141.38,261.78 L142.33,261.77 L143.28,261.76 L144.24,261.75 L145.19,261.74 L146.14,261.73 L147.09,261.71 L148.04,261.70 L149.00,261.69 L149.95,261.68 L150.90,261.67 L151.85,261.65 L152.80,261.64 L153.75,261.63 L154.71,261.61 L155.66,261.60 L156.61,261.58 L157.56,261.57 L158.51,261.55 L159.47,261.54 L160.42,261.52 L161.37,261.51 L162.32,261.49 L163.27,261.47 L164.23,261.45 L165.18,261.43 L166.13,261.42 L167.08,261.40 L168.03,261.38 L168.98,261.36 L169.94,261.34 L170.89,261.31 L171.84,261.29 L172.79,261.27 L173.74,261.25 L174.70,261.22 L175.65,261.20 L176.60,261.17 L177.55,261.16 L178.50,261.15 L179.46,261.14 L180.41,261.12 L181.36,261.11 L182.31,261.10 L183.26,261.08 L184.22,261.07 L185.17,261.05 L186.12,261.04 L187.07,261.02 L188.02,261.00 L188.97,260.99 L189.93,260.97 L190.88,260.95 L191.83,260.94 L192.78,260.92 L193.73,260.90 L194.69,260.88 L195.64,260.86 L196.59,260.84 L197.54,260.82 L198.49,260.80 L199.45,260.78 L200.40,260.76 L201.35,260.74 L202.30,260.71 L203.25,260.69 L204.20,260.67 L205.16,260.64 L206.11,260.62 L207.06,260.59 L208.01,260.57 L208.96,260.54 L209.92,260.51 L210.87,260.49 L211.82,260.46 L212.77,260.43 L213.72,260.40 L214.68,260.37 L215.63,260.34 L216.58,260.31 L217.53,260.28 L218.48,260.24 L219.43,260.21 L220.39,260.17 L221.34,260.14 L222.29,260.10 L223.24,260.07 L224.19,260.03 L225.15,259.99 L226.10,259.95 L227.05,259.91 L228.00,259.87 L228.95,259.83 L229.91,259.78 L230.86,259.74 L231.81,259.70 L232.76,259.65 L233.71,259.60 L234.66,259.56 L235.62,259.51 L236.57,259.46 L237.52,259.40 L238.47,259.35 L239.42,259.30 L240.38,259.24 L241.33,259.19 L242.28,259.13 L243.23,259.07 L244.18,259.01 L245.14,258.95 L246.09,258.89 L247.04,258.83 L247.99,258.76 L248.94,258.70 L249.89,258.63 L250.85,258.56 L251.80,258.49 L252.75,258.42 L253.70,258.34 L254.65,258.27 L255.61,258.19 L256.56,258.11 L257.51,258.03 L258.46,257.95 L259.41,257.86 L260.37,257.77 L261.32,257.69 L262.27,257.60 L263.22,257.50 L264.17,257.41 L265.12,257.31 L266.08,257.22 L267.03,257.12 L267.98,257.01 L268.93,256.91 L269.88,256.80 L270.84,256.69 L271.79,256.58 L272.74,256.47 L273.69,256.35 L274.64,256.23 L275.60,256.11 L276.55,255.98 L277.50,255.85 L278.45,255.72 L279.40,255.59 L280.35,255.46 L281.31,255.32 L282.26,255.17 L283.21,255.03 L284.16,254.88 L285.11,254.73 L286.07,254.57 L287.02,254.42 L287.97,254.25 L288.92,254.09 L289.87,253.92 L290.83,253.75 L291.78,253.57 L292.73,253.39 L293.68,253.21 L294.63,253.02 L295.58,252.83 L296.54,252.63 L297.49,252.43 L298.44,252.23 L299.39,252.02 L300.34,251.80 L301.30,251.58 L302.25,251.36 L303.20,251.13 L304.15,250.90 L305.10,250.66 L306.06,250.42 L307.01,250.17 L307.96,249.91 L308.91,249.65 L309.86,249.39 L310.82,249.12 L311.77,248.84 L312.72,248.56 L313.67,248.27 L314.62,247.97 L315.57,247.67 L316.53,247.36 L317.48,247.05 L318.43,246.73 L319.38,246.40 L320.33,246.06 L321.29,245.72 L322.24,245.37 L323.19,245.01 L324.14,244.64 L325.09,244.27 L326.05,243.89 L327.00,243.50 L327.95,243.10 L328.90,242.69 L329.85,242.28 L330.80,241.85 L331.76,241.42 L332.71,240.98 L333.66,240.52 L334.61,240.06 L335.56,239.59 L336.52,239.11 L337.47,238.61 L338.42,238.11 L339.37,237.59 L340.32,237.07 L341.28,236.53 L342.23,235.98 L343.18,235.42 L344.13,234.85 L345.08,234.27 L346.03,233.67 L346.99,233.06 L347.94,232.44 L348.89,231.80 L349.84,231.15 L350.79,230.49 L351.75,229.81 L352.70,229.12 L353.65,228.41 L354.60,227.69 L355.55,226.95 L356.51,226.20 L357.46,225.43 L358.41,224.65 L359.36,223.85 L360.31,223.03 L361.26,222.19 L362.22,221.34 L363.17,220.46 L364.12,219.57 L365.07,218.66 L366.02,217.73 L366.98,216.78 L367.93,215.81 L368.88,214.82 L369.83,213.81 L370.78,212.78 L371.74,211.73 L372.69,210.65 L373.64,209.55 L374.59,208.43 L375.54,207.28 L376.49,206.11 L377.45,204.92 L378.40,203.70 L379.35,202.45 L380.30,201.18 L381.25,199.88 L382.21,198.55 L383.16,197.20 L384.11,195.82 L385.06,194.41 L386.01,192.96 L386.97,191.49 L387.92,189.99 L388.87,188.46 L389.82,186.89 L390.77,185.29 L391.72,183.66 L392.68,181.99 L393.63,180.29 L394.58,178.55 L395.53,176.77 L396.48,174.96 L397.44,173.11 L398.39,171.23 L399.34,169.30 L400.29,167.33 L401.24,165.32 L402.20,163.27 L403.15,161.18 L404.10,159.04 L405.05,156.86 L406.00,154.63 L406.95,152.36 L407.91,150.04 L408.86,147.67 L409.81,145.25 L410.76,142.78 L411.71,140.26 L412.67,137.69 L413.62,135.07 L414.57,132.39 L415.52,129.65 L416.47,126.86 L417.43,124.01 L418.38,121.10 L419.33,118.14 L420.28,115.11 L421.23,112.01 L422.18,108.86 L423.14,105.63 L424.09,102.35 L425.04,98.99 L425.99,95.57 L426.94,92.07 L427.90,88.50 L428.85,84.86 L429.80,81.15" class="cd" stroke-dashoffset="1.5"/>
<text transform="translate(9.80,135.20) rotate(-90) scale(0.95,1)" class="yt">Displacement (mm)</text>
<text transform="translate(222.60,302.20) scale(0.95,1)" class="xt">Axial position (mm)</text>
<text transform="translate(69.70,16.90) scale(0.95,1)" class="pl">(a)</text>
<line x1="87.5" y1="49.0" x2="116.0" y2="49.0" class="lg"/>
<text transform="translate(119.00,53.80) scale(0.95,1)" class="lt">FEA results</text>
<line x1="204.0" y1="49.0" x2="232.5" y2="49.0" class="lg" stroke-dasharray="8.6 4.4"/>
<text transform="translate(236.00,53.80) scale(0.95,1)" class="lt">Theoretical results</text>
<text transform="translate(436.00,48.60) scale(0.95,1)" class="an">center rod</text>
<text transform="translate(435.80,104.60) scale(0.95,1)" class="an">side rods</text>
<line x1="571.0" y1="262.00" x2="575.5" y2="262.00" class="tk"/>
<text transform="translate(560.20,268.00) scale(0.95,1)" class="yl">0</text>
<line x1="571.0" y1="225.93" x2="575.5" y2="225.93" class="tk"/>
<text transform="translate(560.20,231.93) scale(0.95,1)" class="yl">0.05</text>
<line x1="571.0" y1="189.86" x2="575.5" y2="189.86" class="tk"/>
<text transform="translate(560.20,195.86) scale(0.95,1)" class="yl">0.1</text>
<line x1="571.0" y1="153.79" x2="575.5" y2="153.79" class="tk"/>
<text transform="translate(560.20,159.79) scale(0.95,1)" class="yl">0.15</text>
<line x1="571.0" y1="117.71" x2="575.5" y2="117.71" class="tk"/>
<text transform="translate(560.20,123.71) scale(0.95,1)" class="yl">0.2</text>
<line x1="571.0" y1="81.64" x2="575.5" y2="81.64" class="tk"/>
<text transform="translate(560.20,87.64) scale(0.95,1)" class="yl">0.25</text>
<line x1="571.0" y1="45.57" x2="575.5" y2="45.57" class="tk"/>
<text transform="translate(560.20,51.57) scale(0.95,1)" class="yl">0.3</text>
<line x1="571.0" y1="9.50" x2="575.5" y2="9.50" class="tk"/>
<text transform="translate(560.20,15.50) scale(0.95,1)" class="yl">0.35</text>
<text transform="translate(571.00,286.60) scale(0.95,1)" class="xl">0</text>
<line x1="633.90" y1="262.0" x2="633.90" y2="258.0" class="tx"/>
<text transform="translate(633.90,286.60) scale(0.95,1)" class="xl">50</text>
<line x1="696.80" y1="262.0" x2="696.80" y2="258.0" class="tx"/>
<text transform="translate(696.80,286.60) scale(0.95,1)" class="xl">100</text>
<line x1="759.70" y1="262.0" x2="759.70" y2="258.0" class="tx"/>
<text transform="translate(759.70,286.60) scale(0.95,1)" class="xl">150</text>
<line x1="822.60" y1="262.0" x2="822.60" y2="258.0" class="tx"/>
<text transform="translate(822.60,286.60) scale(0.95,1)" class="xl">200</text>
<line x1="885.50" y1="262.0" x2="885.50" y2="258.0" class="tx"/>
<text transform="translate(885.50,286.60) scale(0.95,1)" class="xl">250</text>
<line x1="948.40" y1="262.0" x2="948.40" y2="258.0" class="tx"/>
<text transform="translate(948.40,286.60) scale(0.95,1)" class="xl">300</text>
<line x1="1011.30" y1="262.0" x2="1011.30" y2="258.0" class="tx"/>
<text transform="translate(1011.30,286.60) scale(0.95,1)" class="xl">350</text>
<line x1="571.0" y1="9.5" x2="571.0" y2="262.5" class="ya"/>
<line x1="570.5" y1="262.3" x2="1011.30" y2="262.3" class="xa"/>
<path d="M571.00,262.00 L571.95,262.00 L572.89,262.00 L573.84,262.00 L574.78,262.00 L575.73,262.00 L576.68,262.00 L577.62,262.00 L578.57,262.00 L579.51,262.00 L580.46,262.00 L581.40,262.00 L582.35,262.00 L583.30,262.00 L584.24,262.00 L585.19,262.00 L586.13,262.00 L587.08,262.00 L588.03,262.00 L588.97,262.00 L589.92,262.00 L590.86,262.00 L591.81,262.00 L592.75,262.00 L593.70,262.00 L594.65,262.00 L595.59,262.00 L596.54,262.00 L597.48,262.00 L598.43,262.00 L599.38,262.00 L600.32,262.00 L601.27,262.00 L602.21,262.00 L603.16,262.00 L604.11,262.00 L605.05,262.00 L606.00,262.00 L606.94,262.00 L607.89,262.00 L608.83,262.00 L609.78,262.00 L610.73,262.00 L611.67,262.00 L612.62,262.00 L613.56,262.00 L614.51,262.00 L615.46,262.00 L616.40,262.00 L617.35,262.00 L618.29,262.00 L619.24,262.00 L620.18,262.00 L621.13,262.00 L622.08,262.00 L623.02,262.00 L623.97,262.00 L624.91,262.00 L625.86,262.00 L626.81,262.00 L627.75,262.00 L628.70,262.00 L629.64,262.00 L630.59,262.00 L631.54,262.00 L632.48,262.00 L633.43,262.00 L634.37,262.00 L635.32,262.00 L636.26,262.00 L637.21,262.00 L638.16,262.00 L639.10,262.00 L640.05,262.00 L640.99,262.00 L641.94,262.00 L642.89,262.00 L643.83,262.00 L644.78,262.00 L645.72,262.00 L646.67,262.00 L647.62,262.00 L648.56,262.00 L649.51,262.00 L650.45,262.00 L651.40,262.00 L652.34,262.00 L653.29,262.00 L654.24,262.00 L655.18,262.00 L656.13,262.00 L657.07,262.00 L658.02,262.00 L658.97,262.00 L659.91,262.00 L660.86,262.00 L661.80,262.00 L662.75,262.00 L663.69,262.00 L664.64,262.00 L665.59,262.00 L666.53,262.00 L667.48,262.00 L668.42,262.00 L669.37,262.00 L670.32,262.00 L671.26,262.00 L672.21,262.00 L673.15,262.00 L674.10,262.00 L675.05,262.00 L675.99,262.00 L676.94,262.00 L677.88,262.00 L678.83,262.00 L679.77,262.00 L680.72,262.00 L681.67,262.00 L682.61,262.00 L683.56,262.00 L684.50,262.00 L685.45,262.00 L686.40,262.00 L687.34,262.00 L688.29,262.00 L689.23,262.00 L690.18,262.00 L691.12,262.00 L692.07,262.00 L693.02,262.00 L693.96,262.00 L694.91,262.00 L695.85,262.00 L696.80,262.00 L697.75,262.00 L698.69,262.00 L699.64,261.99 L700.58,261.99 L701.53,261.99 L702.48,261.99 L703.42,261.99 L704.37,261.99 L705.31,261.99 L706.26,261.99 L707.20,261.99 L708.15,261.99 L709.10,261.98 L710.04,261.98 L710.99,261.98 L711.93,261.98 L712.88,261.98 L713.83,261.97 L714.77,261.97 L715.72,261.97 L716.66,261.97 L717.61,261.96 L718.55,261.96 L719.50,261.96 L720.45,261.95 L721.39,261.95 L722.34,261.95 L723.28,261.94 L724.23,261.94 L725.18,261.93 L726.12,261.93 L727.07,261.92 L728.01,261.91 L728.96,261.91 L729.91,261.90 L730.85,261.89 L731.80,261.88 L732.74,261.88 L733.69,261.87 L734.63,261.86 L735.58,261.85 L736.53,261.84 L737.47,261.83 L738.42,261.82 L739.36,261.80 L740.31,261.79 L741.26,261.78 L742.20,261.76 L743.15,261.75 L744.09,261.73 L745.04,261.72 L745.98,261.70 L746.93,261.68 L747.88,261.66 L748.82,261.64 L749.77,261.62 L750.71,261.60 L751.66,261.58 L752.61,261.55 L753.55,261.53 L754.50,261.50 L755.44,261.48 L756.39,261.45 L757.34,261.42 L758.28,261.39 L759.23,261.36 L760.17,261.33 L761.12,261.29 L762.06,261.26 L763.01,261.22 L763.96,261.19 L764.90,261.15 L765.85,261.11 L766.79,261.06 L767.74,261.02 L768.69,260.98 L769.63,260.93 L770.58,260.88 L771.52,260.83 L772.47,260.78 L773.42,260.72 L774.36,260.67 L775.31,260.61 L776.25,260.55 L777.20,260.49 L778.14,260.43 L779.09,260.36 L780.04,260.30 L780.98,260.23 L781.93,260.15 L782.87,260.08 L783.82,260.00 L784.77,259.93 L785.71,259.84 L786.66,259.76 L787.60,259.67 L788.55,259.59 L789.49,259.49 L790.44,259.40 L791.39,259.30 L792.33,259.20 L793.28,259.10 L794.22,259.00 L795.17,258.89 L796.12,258.78 L797.06,258.66 L798.01,258.54 L798.95,258.42 L799.90,258.30 L800.85,258.17 L801.79,258.04 L802.74,257.90 L803.68,257.76 L804.63,257.62 L805.57,257.47 L806.52,257.32 L807.47,257.17 L808.41,257.01 L809.36,256.85 L810.30,256.68 L811.25,256.51 L812.20,256.34 L813.14,256.16 L814.09,255.97 L815.03,255.78 L815.98,255.59 L816.92,255.39 L817.87,255.19 L818.82,254.98 L819.76,254.76 L820.71,254.54 L821.65,254.32 L822.60,254.09 L823.55,253.85 L824.49,253.61 L825.44,253.36 L826.38,253.11 L827.33,252.85 L828.28,252.58 L829.22,252.31 L830.17,252.03 L831.11,251.75 L832.06,251.46 L833.00,251.16 L833.95,250.85 L834.90,250.54 L835.84,250.21 L836.79,249.89 L837.73,249.55 L838.68,249.21 L839.63,248.85 L840.57,248.49 L841.52,248.12 L842.46,247.75 L843.41,247.36 L844.35,246.97 L845.30,246.56 L846.25,246.15 L847.19,245.73 L848.14,245.30 L849.08,244.85 L850.03,244.40 L850.98,243.94 L851.92,243.47 L852.87,242.98 L853.81,242.49 L854.76,241.98 L855.71,241.47 L856.65,240.94 L857.60,240.40 L858.54,239.84 L859.49,239.28 L860.43,238.70 L861.38,238.11 L862.33,237.51 L863.27,236.89 L864.22,236.26 L865.16,235.61 L866.11,234.95 L867.06,234.28 L868.00,233.59 L868.95,232.89 L869.89,232.17 L870.84,231.43 L871.78,230.68 L872.73,229.91 L873.68,229.13 L874.62,228.32 L875.57,227.50 L876.51,226.67 L877.46,225.81 L878.41,224.93 L879.35,224.04 L880.30,223.12 L881.24,222.19 L882.19,221.23 L883.14,220.26 L884.08,219.26 L885.03,218.24 L885.97,217.20 L886.92,216.14 L887.86,215.05 L888.81,213.94 L889.76,212.80 L890.70,211.64 L891.65,210.46 L892.59,209.24 L893.54,208.01 L894.49,206.74 L895.43,205.45 L896.38,204.13 L897.32,202.78 L898.27,201.40 L899.22,199.99 L900.16,198.55 L901.11,197.08 L902.05,195.57 L903.00,194.04 L903.94,192.47 L904.89,190.87 L905.84,189.23 L906.78,187.55 L907.73,185.84 L908.67,184.09 L909.62,182.31 L910.57,180.48 L911.51,178.62 L912.46,176.71 L913.40,174.76 L914.35,172.77 L915.29,170.74 L916.24,168.66 L917.19,166.54 L918.13,164.37 L919.08,162.15 L920.02,159.89 L920.97,157.57 L921.92,155.21 L922.86,152.79 L923.81,150.32 L924.75,147.80 L925.70,145.22 L926.65,142.59 L927.59,139.89 L928.54,137.14 L929.48,134.33 L930.43,131.46 L931.37,128.52 L932.32,125.52 L933.27,122.46 L934.21,119.32 L935.16,116.12 L936.10,112.85 L937.05,109.51 L938.00,106.09 L938.94,102.60 L939.89,99.03 L940.83,95.38 L941.78,91.65 L942.72,87.84 L943.67,83.95 L944.62,79.97 L945.56,75.91 L946.51,71.75 L947.45,67.50 L948.40,63.16" class="cs"/>
<path d="M571.00,262.00 L571.95,262.00 L572.89,262.00 L573.84,262.00 L574.78,262.00 L575.73,262.00 L576.68,262.00 L577.62,262.00 L578.57,262.00 L579.51,262.00 L580.46,262.00 L581.40,262.00 L582.35,262.00 L583.30,262.00 L584.24,262.00 L585.19,262.00 L586.13,262.00 L587.08,262.00 L588.03,262.00 L588.97,262.00 L589.92,262.00 L590.86,262.00 L591.81,262.00 L592.75,262.00 L593.70,262.00 L594.65,262.00 L595.59,262.00 L596.54,262.00 L597.48,262.00 L598.43,262.00 L599.38,262.00 L600.32,262.00 L601.27,262.00 L602.21,262.00 L603.16,262.00 L604.11,262.00 L605.05,262.00 L606.00,262.00 L606.94,262.00 L607.89,262.00 L608.83,262.00 L609.78,262.00 L610.73,262.00 L611.67,262.00 L612.62,262.00 L613.56,262.00 L614.51,262.00 L615.46,262.00 L616.40,262.00 L617.35,262.00 L618.29,262.00 L619.24,262.00 L620.18,262.00 L621.13,262.00 L622.08,262.00 L623.02,262.00 L623.97,262.00 L624.91,262.00 L625.86,262.00 L626.81,262.00 L627.75,262.00 L628.70,262.00 L629.64,262.00 L630.59,262.00 L631.54,262.00 L632.48,262.00 L633.43,262.00 L634.37,262.00 L635.32,262.00 L636.26,262.00 L637.21,262.00 L638.16,262.00 L639.10,262.00 L640.05,262.00 L640.99,262.00 L641.94,262.00 L642.89,262.00 L643.83,262.00 L644.78,262.00 L645.72,262.00 L646.67,262.00 L647.62,262.00 L648.56,262.00 L649.51,262.00 L650.45,262.00 L651.40,262.00 L652.34,262.00 L653.29,262.00 L654.24,262.00 L655.18,262.00 L656.13,262.00 L657.07,262.00 L658.02,262.00 L658.97,262.00 L659.91,262.00 L660.86,262.00 L661.80,262.00 L662.75,262.00 L663.69,262.00 L664.64,262.00 L665.59,262.00 L666.53,262.00 L667.48,262.00 L668.42,262.00 L669.37,262.00 L670.32,262.00 L671.26,262.00 L672.21,262.00 L673.15,262.00 L674.10,262.00 L675.05,262.00 L675.99,262.00 L676.94,262.00 L677.88,262.00 L678.83,262.00 L679.77,262.00 L680.72,262.00 L681.67,262.00 L682.61,262.00 L683.56,262.00 L684.50,262.00 L685.45,262.00 L686.40,262.00 L687.34,262.00 L688.29,262.00 L689.23,262.00 L690.18,262.00 L691.12,262.00 L692.07,262.00 L693.02,262.00 L693.96,262.00 L694.91,262.00 L695.85,262.00 L696.80,262.00 L697.75,262.00 L698.69,262.00 L699.64,261.99 L700.58,261.99 L701.53,261.99 L702.48,261.99 L703.42,261.99 L704.37,261.99 L705.31,261.99 L706.26,261.99 L707.20,261.99 L708.15,261.99 L709.10,261.98 L710.04,261.98 L710.99,261.98 L711.93,261.98 L712.88,261.98 L713.83,261.97 L714.77,261.97 L715.72,261.97 L716.66,261.97 L717.61,261.96 L718.55,261.96 L719.50,261.96 L720.45,261.95 L721.39,261.95 L722.34,261.95 L723.28,261.94 L724.23,261.94 L725.18,261.93 L726.12,261.93 L727.07,261.92 L728.01,261.91 L728.96,261.91 L729.91,261.90 L730.85,261.89 L731.80,261.88 L732.74,261.88 L733.69,261.87 L734.63,261.86 L735.58,261.85 L736.53,261.84 L737.47,261.83 L738.42,261.82 L739.36,261.80 L740.31,261.79 L741.26,261.78 L742.20,261.76 L743.15,261.75 L744.09,261.73 L745.04,261.72 L745.98,261.70 L746.93,261.68 L747.88,261.66 L748.82,261.64 L749.77,261.62 L750.71,261.60 L751.66,261.58 L752.61,261.55 L753.55,261.53 L754.50,261.50 L755.44,261.48 L756.39,261.45 L757.34,261.42 L758.28,261.39 L759.23,261.36 L760.17,261.33 L761.12,261.29 L762.06,261.26 L763.01,261.22 L763.96,261.19 L764.90,261.15 L765.85,261.11 L766.79,261.06 L767.74,261.02 L768.69,260.98 L769.63,260.93 L770.58,260.88 L771.52,260.83 L772.47,260.78 L773.42,260.72 L774.36,260.67 L775.31,260.61 L776.25,260.55 L777.20,260.49 L778.14,260.43 L779.09,260.36 L780.04,260.30 L780.98,260.23 L781.93,260.15 L782.87,260.08 L783.82,260.00 L784.77,259.93 L785.71,259.84 L786.66,259.76 L787.60,259.67 L788.55,259.59 L789.49,259.49 L790.44,259.40 L791.39,259.30 L792.33,259.20 L793.28,259.10 L794.22,259.00 L795.17,258.89 L796.12,258.78 L797.06,258.66 L798.01,258.54 L798.95,258.42 L799.90,258.30 L800.85,258.17 L801.79,258.04 L802.74,257.90 L803.68,257.76 L804.63,257.62 L805.57,257.47 L806.52,257.32 L807.47,257.17 L808.41,257.01 L809.36,256.85 L810.30,256.68 L811.25,256.51 L812.20,256.34 L813.14,256.16 L814.09,255.97 L815.03,255.78 L815.98,255.59 L816.92,255.39 L817.87,255.19 L818.82,254.98 L819.76,254.76 L820.71,254.54 L821.65,254.32 L822.60,254.09 L823.55,253.85 L824.49,253.61 L825.44,253.36 L826.38,253.11 L827.33,252.85 L828.28,252.58 L829.22,252.31 L830.17,252.03 L831.11,251.74 L832.06,251.45 L833.00,251.15 L833.95,250.84 L834.90,250.53 L835.84,250.21 L836.79,249.88 L837.73,249.54 L838.68,249.19 L839.63,248.84 L840.57,248.48 L841.52,248.10 L842.46,247.72 L843.41,247.34 L844.35,246.94 L845.30,246.53 L846.25,246.11 L847.19,245.69 L848.14,245.25 L849.08,244.80 L850.03,244.35 L850.98,243.88 L851.92,243.40 L852.87,242.91 L853.81,242.41 L854.76,241.89 L855.71,241.37 L856.65,240.83 L857.60,240.28 L858.54,239.72 L859.49,239.15 L860.43,238.56 L861.38,237.95 L862.33,237.34 L863.27,236.71 L864.22,236.06 L865.16,235.41 L866.11,234.73 L867.06,234.04 L868.00,233.33 L868.95,232.61 L869.89,231.87 L870.84,231.12 L871.78,230.35 L872.73,229.56 L873.68,228.75 L874.62,227.92 L875.57,227.07 L876.51,226.21 L877.46,225.32 L878.41,224.42 L879.35,223.49 L880.30,222.54 L881.24,221.58 L882.19,220.58 L883.14,219.57 L884.08,218.53 L885.03,217.47 L885.97,216.39 L886.92,215.28 L887.86,214.14 L888.81,212.98 L889.76,211.79 L890.70,210.58 L891.65,209.34 L892.59,208.07 L893.54,206.77 L894.49,205.44 L895.43,204.08 L896.38,202.68 L897.32,201.26 L898.27,199.80 L899.22,198.31 L900.16,196.79 L901.11,195.23 L902.05,193.64 L903.00,192.01 L903.94,190.34 L904.89,188.63 L905.84,186.88 L906.78,185.10 L907.73,183.27 L908.67,181.40 L909.62,179.48 L910.57,177.53 L911.51,175.52 L912.46,173.48 L913.40,171.38 L914.35,169.23 L915.29,167.04 L916.24,164.79 L917.19,162.50 L918.13,160.15 L919.08,157.74 L920.02,155.28 L920.97,152.76 L921.92,150.18 L922.86,147.55 L923.81,144.85 L924.75,142.09 L925.70,139.26 L926.65,136.37 L927.59,133.41 L928.54,130.38 L929.48,127.28 L930.43,124.11 L931.37,120.86 L932.32,117.54 L933.27,114.14 L934.21,110.66 L935.16,107.10 L936.10,103.45 L937.05,99.72 L938.00,95.90 L938.94,91.98 L939.89,87.98 L940.83,83.88 L941.78,79.69 L942.72,75.39 L943.67,71.00 L944.62,66.50 L945.56,61.89 L946.51,57.17 L947.45,52.34 L948.40,47.40" class="cd" stroke-dashoffset="6.36"/>
<path d="M571.00,262.00 L571.95,262.00 L572.89,262.00 L573.84,262.00 L574.78,262.00 L575.73,262.00 L576.68,262.00 L577.62,262.00 L578.57,262.00 L579.51,262.00 L580.46,262.00 L581.40,262.00 L582.35,262.00 L583.30,262.00 L584.24,262.00 L585.19,262.00 L586.13,262.00 L587.08,262.00 L588.03,262.00 L588.97,262.00 L589.92,262.00 L590.86,262.00 L591.81,262.00 L592.75,262.00 L593.70,262.00 L594.65,262.00 L595.59,262.00 L596.54,262.00 L597.48,262.00 L598.43,262.00 L599.38,262.00 L600.32,262.00 L601.27,262.00 L602.21,262.00 L603.16,262.00 L604.11,262.00 L605.05,262.00 L606.00,262.00 L606.94,262.00 L607.89,262.00 L608.83,262.00 L609.78,262.00 L610.73,262.00 L611.67,262.00 L612.62,262.00 L613.56,262.00 L614.51,262.00 L615.46,262.00 L616.40,262.00 L617.35,262.00 L618.29,262.00 L619.24,262.00 L620.18,262.00 L621.13,262.00 L622.08,262.00 L623.02,262.00 L623.97,262.00 L624.91,262.00 L625.86,262.00 L626.81,262.00 L627.75,262.00 L628.70,262.00 L629.64,262.00 L630.59,262.00 L631.54,262.00 L632.48,262.00 L633.43,262.00 L634.37,262.00 L635.32,262.00 L636.26,262.00 L637.21,262.00 L638.16,262.00 L639.10,262.00 L640.05,262.00 L640.99,262.00 L641.94,262.00 L642.89,262.00 L643.83,262.00 L644.78,262.00 L645.72,262.00 L646.67,262.00 L647.62,262.00 L648.56,262.00 L649.51,262.00 L650.45,262.00 L651.40,262.00 L652.34,262.00 L653.29,262.00 L654.24,262.00 L655.18,262.00 L656.13,262.00 L657.07,262.00 L658.02,262.00 L658.97,262.00 L659.91,262.00 L660.86,262.00 L661.80,262.00 L662.75,262.00 L663.69,262.00 L664.64,262.00 L665.59,262.00 L666.53,262.00 L667.48,262.00 L668.42,262.00 L669.37,262.00 L670.32,262.00 L671.26,262.00 L672.21,262.00 L673.15,262.00 L674.10,262.00 L675.05,262.00 L675.99,262.00 L676.94,262.00 L677.88,262.00 L678.83,262.00 L679.77,262.00 L680.72,262.00 L681.67,262.00 L682.61,262.00 L683.56,262.00 L684.50,262.00 L685.45,262.00 L686.40,262.00 L687.34,262.00 L688.29,262.00 L689.23,262.00 L690.18,262.00 L691.12,262.00 L692.07,262.00 L693.02,262.00 L693.96,262.00 L694.91,262.00 L695.85,262.00 L696.80,262.00 L697.75,262.00 L698.69,262.00 L699.64,262.00 L700.58,262.00 L701.53,262.00 L702.48,262.00 L703.42,262.00 L704.37,262.00 L705.31,262.00 L706.26,262.00 L707.20,262.00 L708.15,262.00 L709.10,262.00 L710.04,262.00 L710.99,262.00 L711.93,262.00 L712.88,262.00 L713.83,262.00 L714.77,262.00 L715.72,262.00 L716.66,262.00 L717.61,262.00 L718.55,262.00 L719.50,262.00 L720.45,262.00 L721.39,262.00 L722.34,262.00 L723.28,262.00 L724.23,262.00 L725.18,262.00 L726.12,262.00 L727.07,262.00 L728.01,262.00 L728.96,262.00 L729.91,262.00 L730.85,262.00 L731.80,262.00 L732.74,262.00 L733.69,262.00 L734.63,262.00 L735.58,262.00 L736.53,262.00 L737.47,262.00 L738.42,262.00 L739.36,262.00 L740.31,262.00 L741.26,262.00 L742.20,262.00 L743.15,262.00 L744.09,262.00 L745.04,262.00 L745.98,262.00 L746.93,262.00 L747.88,262.00 L748.82,262.00 L749.77,262.00 L750.71,262.00 L751.66,262.00 L752.61,262.00 L753.55,262.00 L754.50,262.00 L755.44,262.00 L756.39,262.00 L757.34,262.00 L758.28,262.00 L759.23,262.00 L760.17,262.00 L761.12,262.00 L762.06,262.00 L763.01,262.00 L763.96,262.00 L764.90,262.00 L765.85,262.00 L766.79,262.00 L767.74,262.00 L768.69,262.00 L769.63,262.00 L770.58,262.00 L771.52,262.00 L772.47,262.00 L773.42,262.00 L774.36,262.00 L775.31,262.00 L776.25,262.00 L777.20,262.00 L778.14,262.00 L779.09,262.00 L780.04,262.00 L780.98,262.00 L781.93,262.00 L782.87,262.00 L783.82,262.00 L784.77,262.00 L785.71,262.00 L786.66,262.00 L787.60,262.00 L788.55,262.00 L789.49,262.00 L790.44,262.00 L791.39,262.00 L792.33,262.00 L793.28,261.99 L794.22,261.99 L795.17,261.99 L796.12,261.99 L797.06,261.99 L798.01,261.99 L798.95,261.98 L799.90,261.98 L800.85,261.98 L801.79,261.97 L802.74,261.97 L803.68,261.96 L804.63,261.95 L805.57,261.95 L806.52,261.94 L807.47,261.93 L808.41,261.92 L809.36,261.90 L810.30,261.89 L811.25,261.87 L812.20,261.86 L813.14,261.84 L814.09,261.82 L815.03,261.79 L815.98,261.77 L816.92,261.74 L817.87,261.70 L818.82,261.67 L819.76,261.63 L820.71,261.59 L821.65,261.54 L822.60,261.50 L823.55,261.44 L824.49,261.38 L825.44,261.32 L826.38,261.25 L827.33,261.18 L828.28,261.11 L829.22,261.02 L830.17,260.94 L831.11,260.84 L832.06,260.74 L833.00,260.64 L833.95,260.52 L834.90,260.41 L835.84,260.28 L836.79,260.15 L837.73,260.01 L838.68,259.86 L839.63,259.71 L840.57,259.55 L841.52,259.38 L842.46,259.20 L843.41,259.02 L844.35,258.83 L845.30,258.63 L846.25,258.42 L847.19,258.20 L848.14,257.98 L849.08,257.75 L850.03,257.51 L850.98,257.26 L851.92,257.00 L852.87,256.73 L853.81,256.46 L854.76,256.17 L855.71,255.88 L856.65,255.58 L857.60,255.27 L858.54,254.96 L859.49,254.63 L860.43,254.30 L861.38,253.95 L862.33,253.60 L863.27,253.24 L864.22,252.87 L865.16,252.49 L866.11,252.11 L867.06,251.71 L868.00,251.31 L868.95,250.89 L869.89,250.47 L870.84,250.04 L871.78,249.60 L872.73,249.15 L873.68,248.69 L874.62,248.22 L875.57,247.75 L876.51,247.26 L877.46,246.76 L878.41,246.26 L879.35,245.74 L880.30,245.22 L881.24,244.68 L882.19,244.13 L883.14,243.57 L884.08,243.01 L885.03,242.43 L885.97,241.83 L886.92,241.23 L887.86,240.61 L888.81,239.99 L889.76,239.34 L890.70,238.69 L891.65,238.02 L892.59,237.34 L893.54,236.64 L894.49,235.93 L895.43,235.20 L896.38,234.45 L897.32,233.69 L898.27,232.91 L899.22,232.12 L900.16,231.30 L901.11,230.46 L902.05,229.61 L903.00,228.73 L903.94,227.83 L904.89,226.91 L905.84,225.96 L906.78,224.99 L907.73,223.99 L908.67,222.96 L909.62,221.91 L910.57,220.83 L911.51,219.71 L912.46,218.57 L913.40,217.39 L914.35,216.18 L915.29,214.92 L916.24,213.64 L917.19,212.31 L918.13,210.94 L919.08,209.52 L920.02,208.06 L920.97,206.56 L921.92,205.00 L922.86,203.39 L923.81,201.73 L924.75,200.01 L925.70,198.22 L926.65,196.38 L927.59,194.47 L928.54,192.50 L929.48,190.45 L930.43,188.32 L931.37,186.12 L932.32,183.83 L933.27,181.45 L934.21,178.99 L935.16,176.43 L936.10,173.77 L937.05,171.00 L938.00,168.12 L938.94,165.12 L939.89,162.01 L940.83,158.76 L941.78,155.38 L942.72,151.86 L943.67,148.18 L944.62,144.35 L945.56,140.36 L946.51,136.18 L947.45,131.83 L948.40,127.28" class="cs"/>
<path d="M571.00,262.00 L571.95,262.00 L572.89,262.00 L573.84,262.00 L574.78,262.00 L575.73,262.00 L576.68,262.00 L577.62,262.00 L578.57,262.00 L579.51,262.00 L580.46,262.00 L581.40,262.00 L582.35,262.00 L583.30,262.00 L584.24,262.00 L585.19,262.00 L586.13,262.00 L587.08,262.00 L588.03,262.00 L588.97,262.00 L589.92,262.00 L590.86,262.00 L591.81,262.00 L592.75,262.00 L593.70,262.00 L594.65,262.00 L595.59,262.00 L596.54,262.00 L597.48,262.00 L598.43,262.00 L599.38,262.00 L600.32,262.00 L601.27,262.00 L602.21,262.00 L603.16,262.00 L604.11,262.00 L605.05,262.00 L606.00,262.00 L606.94,262.00 L607.89,262.00 L608.83,262.00 L609.78,262.00 L610.73,262.00 L611.67,262.00 L612.62,262.00 L613.56,262.00 L614.51,262.00 L615.46,262.00 L616.40,262.00 L617.35,262.00 L618.29,262.00 L619.24,262.00 L620.18,262.00 L621.13,262.00 L622.08,262.00 L623.02,262.00 L623.97,262.00 L624.91,262.00 L625.86,262.00 L626.81,262.00 L627.75,262.00 L628.70,262.00 L629.64,262.00 L630.59,262.00 L631.54,262.00 L632.48,262.00 L633.43,262.00 L634.37,262.00 L635.32,262.00 L636.26,262.00 L637.21,262.00 L638.16,262.00 L639.10,262.00 L640.05,262.00 L640.99,262.00 L641.94,262.00 L642.89,262.00 L643.83,262.00 L644.78,262.00 L645.72,262.00 L646.67,262.00 L647.62,262.00 L648.56,262.00 L649.51,262.00 L650.45,262.00 L651.40,262.00 L652.34,262.00 L653.29,262.00 L654.24,262.00 L655.18,262.00 L656.13,262.00 L657.07,262.00 L658.02,262.00 L658.97,262.00 L659.91,262.00 L660.86,262.00 L661.80,262.00 L662.75,262.00 L663.69,262.00 L664.64,262.00 L665.59,262.00 L666.53,262.00 L667.48,262.00 L668.42,262.00 L669.37,262.00 L670.32,262.00 L671.26,262.00 L672.21,262.00 L673.15,262.00 L674.10,262.00 L675.05,262.00 L675.99,262.00 L676.94,262.00 L677.88,262.00 L678.83,262.00 L679.77,262.00 L680.72,262.00 L681.67,262.00 L682.61,262.00 L683.56,262.00 L684.50,262.00 L685.45,262.00 L686.40,262.00 L687.34,262.00 L688.29,262.00 L689.23,262.00 L690.18,262.00 L691.12,262.00 L692.07,262.00 L693.02,262.00 L693.96,262.00 L694.91,262.00 L695.85,262.00 L696.80,262.00 L697.75,262.00 L698.69,262.00 L699.64,262.00 L700.58,262.00 L701.53,262.00 L702.48,262.00 L703.42,262.00 L704.37,262.00 L705.31,262.00 L706.26,262.00 L707.20,262.00 L708.15,262.00 L709.10,262.00 L710.04,262.00 L710.99,262.00 L711.93,262.00 L712.88,262.00 L713.83,262.00 L714.77,262.00 L715.72,262.00 L716.66,262.00 L717.61,262.00 L718.55,262.00 L719.50,262.00 L720.45,262.00 L721.39,262.00 L722.34,262.00 L723.28,262.00 L724.23,262.00 L725.18,262.00 L726.12,262.00 L727.07,262.00 L728.01,262.00 L728.96,262.00 L729.91,262.00 L730.85,262.00 L731.80,262.00 L732.74,262.00 L733.69,262.00 L734.63,262.00 L735.58,262.00 L736.53,262.00 L737.47,262.00 L738.42,262.00 L739.36,262.00 L740.31,262.00 L741.26,262.00 L742.20,262.00 L743.15,262.00 L744.09,262.00 L745.04,262.00 L745.98,262.00 L746.93,262.00 L747.88,262.00 L748.82,262.00 L749.77,262.00 L750.71,262.00 L751.66,262.00 L752.61,262.00 L753.55,262.00 L754.50,262.00 L755.44,262.00 L756.39,262.00 L757.34,262.00 L758.28,262.00 L759.23,262.00 L760.17,262.00 L761.12,262.00 L762.06,262.00 L763.01,262.00 L763.96,262.00 L764.90,262.00 L765.85,262.00 L766.79,262.00 L767.74,262.00 L768.69,262.00 L769.63,262.00 L770.58,262.00 L771.52,262.00 L772.47,262.00 L773.42,262.00 L774.36,262.00 L775.31,262.00 L776.25,262.00 L777.20,262.00 L778.14,262.00 L779.09,262.00 L780.04,262.00 L780.98,262.00 L781.93,262.00 L782.87,262.00 L783.82,262.00 L784.77,262.00 L785.71,262.00 L786.66,262.00 L787.60,262.00 L788.55,262.00 L789.49,262.00 L790.44,262.00 L791.39,262.00 L792.33,262.00 L793.28,262.00 L794.22,262.00 L795.17,262.00 L796.12,262.00 L797.06,262.00 L798.01,262.00 L798.95,262.00 L799.90,262.00 L800.85,261.99 L801.79,261.99 L802.74,261.99 L803.68,261.99 L804.63,261.99 L805.57,261.98 L806.52,261.98 L807.47,261.98 L808.41,261.97 L809.36,261.97 L810.30,261.96 L811.25,261.95 L812.20,261.95 L813.14,261.94 L814.09,261.93 L815.03,261.92 L815.98,261.90 L816.92,261.89 L817.87,261.87 L818.82,261.85 L819.76,261.83 L820.71,261.80 L821.65,261.78 L822.60,261.75 L823.55,261.72 L824.49,261.68 L825.44,261.64 L826.38,261.60 L827.33,261.55 L828.28,261.50 L829.22,261.44 L830.17,261.38 L831.11,261.32 L832.06,261.25 L833.00,261.17 L833.95,261.09 L834.90,261.00 L835.84,260.91 L836.79,260.81 L837.73,260.70 L838.68,260.59 L839.63,260.47 L840.57,260.34 L841.52,260.20 L842.46,260.06 L843.41,259.91 L844.35,259.75 L845.30,259.59 L846.25,259.42 L847.19,259.23 L848.14,259.05 L849.08,258.85 L850.03,258.64 L850.98,258.43 L851.92,258.21 L852.87,257.97 L853.81,257.74 L854.76,257.49 L855.71,257.23 L856.65,256.97 L857.60,256.69 L858.54,256.41 L859.49,256.12 L860.43,255.82 L861.38,255.52 L862.33,255.20 L863.27,254.88 L864.22,254.54 L865.16,254.20 L866.11,253.85 L867.06,253.49 L868.00,253.13 L868.95,252.75 L869.89,252.37 L870.84,251.98 L871.78,251.58 L872.73,251.17 L873.68,250.76 L874.62,250.33 L875.57,249.90 L876.51,249.45 L877.46,249.00 L878.41,248.54 L879.35,248.07 L880.30,247.59 L881.24,247.10 L882.19,246.60 L883.14,246.10 L884.08,245.58 L885.03,245.05 L885.97,244.51 L886.92,243.96 L887.86,243.40 L888.81,242.82 L889.76,242.24 L890.70,241.64 L891.65,241.03 L892.59,240.40 L893.54,239.76 L894.49,239.11 L895.43,238.44 L896.38,237.76 L897.32,237.06 L898.27,236.34 L899.22,235.61 L900.16,234.85 L901.11,234.08 L902.05,233.29 L903.00,232.47 L903.94,231.64 L904.89,230.78 L905.84,229.89 L906.78,228.98 L907.73,228.04 L908.67,227.08 L909.62,226.08 L910.57,225.06 L911.51,224.00 L912.46,222.91 L913.40,221.78 L914.35,220.62 L915.29,219.41 L916.24,218.16 L917.19,216.87 L918.13,215.54 L919.08,214.16 L920.02,212.72 L920.97,211.23 L921.92,209.69 L922.86,208.09 L923.81,206.42 L924.75,204.69 L925.70,202.89 L926.65,201.02 L927.59,199.07 L928.54,197.04 L929.48,194.93 L930.43,192.73 L931.37,190.43 L932.32,188.03 L933.27,185.52 L934.21,182.91 L935.16,180.17 L936.10,177.32 L937.05,174.33 L938.00,171.20 L938.94,167.92 L939.89,164.49 L940.83,160.89 L941.78,157.12 L942.72,153.16 L943.67,149.00 L944.62,144.64 L945.56,140.05 L946.51,135.23 L947.45,130.17 L948.40,124.83" class="cd" stroke-dashoffset="0.7"/>
<text transform="translate(530.80,135.20) rotate(-90) scale(0.95,1)" class="yt">Displacement (mm)</text>
<text transform="translate(742.60,302.20) scale(0.95,1)" class="xt">Axial position (mm)</text>
<text transform="translate(592.20,16.90) scale(0.95,1)" class="pl">(b)</text>
<line x1="605.5" y1="45.4" x2="634.0" y2="45.4" class="lg"/>
<text transform="translate(637.00,50.20) scale(0.95,1)" class="lt">FEA results</text>
<line x1="721.3" y1="45.4" x2="749.8" y2="45.4" class="lg" stroke-dasharray="8.6 4.4"/>
<text transform="translate(752.20,50.20) scale(0.95,1)" class="lt">Theoretical results</text>
<text transform="translate(957.40,60.60) scale(0.95,1)" class="an">center rod</text>
<text transform="translate(959.60,131.70) scale(0.95,1)" class="an">side rods</text>
</svg></body></html>
